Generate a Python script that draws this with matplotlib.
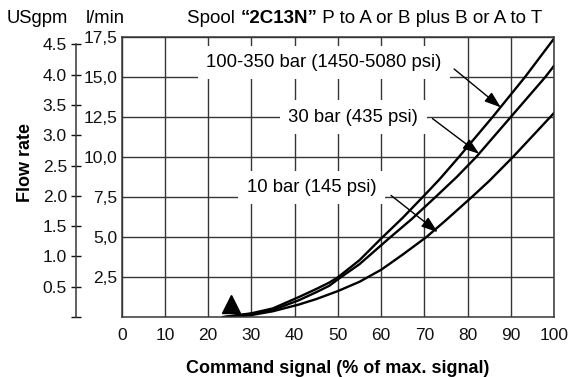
import numpy as np
import matplotlib
matplotlib.use("Agg")
from matplotlib import pyplot as plt

plt.rcParams["font.family"] = ["Liberation Sans", "DejaVu Sans"]

# command signal (% of max) and flow (l/min)
sig_350 = [23.5, 30, 35, 41, 45, 48, 50, 55, 60, 65, 70, 73.5, 78, 85.8, 93.3, 100]
flow_350 = [0, 0.23, 0.54, 1.25, 1.75, 2.15, 2.48, 3.55, 4.9, 6.2, 7.6, 8.6, 10.0, 12.5, 15.0, 17.4]
sig_30 = [24, 30, 35, 41, 45, 48, 50.5, 55, 62.2, 67, 72.6, 77.5, 82, 90, 98, 100]
flow_30 = [0, 0.2, 0.44, 1.05, 1.55, 1.95, 2.45, 3.3, 5.0, 6.1, 7.5, 8.75, 10.0, 12.5, 15.0, 15.7]
sig_10 = [26, 30, 35, 41, 45, 50, 55, 57, 60, 65, 70.5, 75, 81, 85, 90.5, 95, 100]
flow_10 = [0, 0.12, 0.36, 0.78, 1.12, 1.62, 2.2, 2.5, 2.95, 3.9, 5.0, 6.05, 7.5, 8.5, 10.0, 11.3, 12.75]

curve_labels = ["100-350 bar (1450-5080 psi)", "30 bar (435 psi)", "10 bar (145 psi)"]

x_ticks = [0, 10, 20, 30, 40, 50, 60, 70, 80, 90, 100]
lpm_ticks = [2.5, 5.0, 7.5, 10.0, 12.5, 15.0, 17.5]
lpm_labels = ["2,5", "5,0", "7,5", "10,0", "12,5", "15,0", "17,5"]
gpm_ticks = [0, 0.5, 1.0, 1.5, 2.0, 2.5, 3.0, 3.5, 4.0, 4.5]
gpm_labels = ["", "0.5", "1.0", "1.5", "2.0", "2.5", "3.0", "3.5", "4.0", "4.5"]
LPM_PER_GPM = 3.785

start_mark = (25.2, 0.8)

fig = plt.figure(figsize=(5.71, 3.77), dpi=100)
ax = fig.add_axes([121.7 / 571, 60 / 377, 432.3 / 571, 280 / 377])
ax.set_xlim(0, 100)
ax.set_ylim(0, 17.5)

gc = "#363636"
ax.set_xticks(x_ticks)
ax.set_yticks(lpm_ticks)
ax.set_yticklabels(lpm_labels)
ax.tick_params(length=0, labelsize=12.5, colors="#111111")
ax.tick_params(axis="x", pad=8)
ax.tick_params(axis="y", pad=3)
ax.grid(True, color=gc, lw=1.0)
ax.set_axisbelow(True)
for s in ax.spines.values():
    s.set_color(gc)
    s.set_linewidth(1.1)

for sx, fy in [(sig_350, flow_350), (sig_30, flow_30), (sig_10, flow_10)]:
    ax.plot(sx, fy, color="black", lw=1.7, zorder=2.5, solid_joinstyle="round")

ax.plot(*start_mark, marker="^", ms=13, color="black", ls="none", zorder=3)

# labels in white boxes with arrows onto the curves
box = dict(boxstyle="square,pad=0.45", fc="white", ec="none")
label_pos = [(46.7, 15.9), (53.6, 12.5), (43.9, 8.1)]
arrow_from = [(76.9, 15.5), (71.9, 12.4), (62.3, 7.6)]
arrow_to = [(87.7, 13.1), (82.7, 10.2), (73.1, 5.3)]
for lab, p, a0, a1 in zip(curve_labels, label_pos, arrow_from, arrow_to):
    ax.text(p[0], p[1], lab, ha="center", va="center", fontsize=13.3, bbox=box, zorder=3)
    ax.annotate("", xy=a1, xytext=a0, zorder=4,
                arrowprops=dict(arrowstyle="-|>,head_length=1.0,head_width=0.35",
                                color="black", lw=1.0, shrinkA=0, shrinkB=0))

# second scale in US gallons per minute
sec = ax.secondary_yaxis(-0.1057, functions=(lambda v: v / LPM_PER_GPM, lambda v: v * LPM_PER_GPM))
sec.set_yticks(gpm_ticks)
sec.set_yticklabels(gpm_labels)
sec.tick_params(direction="inout", length=7, width=1.0, labelsize=12.5, pad=3, colors="#111111")
sec.spines["left"].set_bounds(0, 4.5)
sec.spines["left"].set_color(gc)
sec.spines["left"].set_linewidth(1.1)

ax.set_xlabel("Command signal (% of max. signal)", fontsize=13, fontweight="bold", labelpad=12)
fig.text(25 / 571, 1 - 163 / 377, "Flow rate", rotation=90, fontsize=13, fontweight="bold",
         ha="center", va="center")

base_y = 1 - 23 / 377
fig.text(7 / 571, base_y, "USgpm", fontsize=13.3, va="baseline")
fig.text(86 / 571, base_y, "l/min", fontsize=13.3, va="baseline")

# title with a bold spool code, pieces placed one after another
fig.canvas.draw()
r = fig.canvas.get_renderer()
x0 = 187
for piece, w in [("Spool ", "normal"), ("\u201c2C13N\u201d", "bold"), (" P to A or B plus B or A to T", "normal")]:
    t = fig.text(x0 / 571, base_y, piece, fontsize=13.5, fontweight=w, va="baseline")
    x0 = t.get_window_extent(r).x1

fig.savefig("out.png", dpi=100)
